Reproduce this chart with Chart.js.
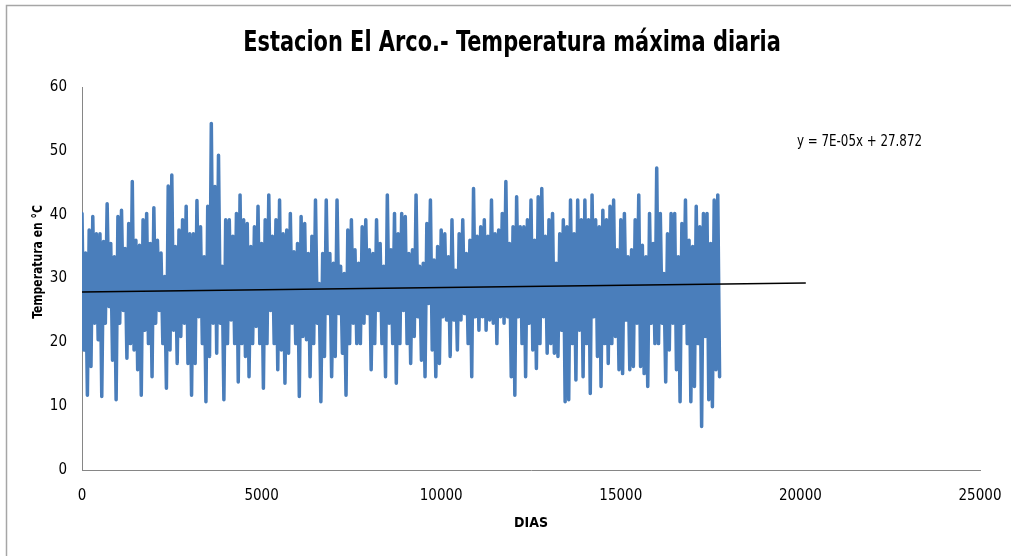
<!DOCTYPE html>
<html>
<head>
<meta charset="utf-8">
<script src="https://cdn.jsdelivr.net/npm/chart.js@4.4.1/dist/chart.umd.min.js"></script>
<style>
  html, body { margin: 0; padding: 0; background: #fff; }
</style>
</head>
<body>
<canvas id="grafico" width="1011" height="556"></canvas>
<script>
// Maximos y minimos de la serie diaria, leidos por tramos de 100 dias
const paso = 100;
const maximos = [
  40.2, 34, 37.6, 39.7, 37, 37, 35.8, 41.7, 35.5, 33.4, 39.7, 40.7, 34.7, 38.6, 45.2, 36,
  35.2, 39.2, 40.2, 35.5, 41.1, 36, 34, 30.3, 44.5, 46.2, 35, 37.6, 39.2, 41.3, 37, 37,
  42.2, 38.1, 33.4, 41.3, 54.3, 44.4, 49.3, 31.9, 39.2, 39.2, 36.6, 40.2, 43.1, 39.2,
  38.6, 35, 38.1, 41.3, 35.5, 39.2, 43.1, 36.6, 39.2, 42.3, 37, 37.6, 40.2, 34.2, 35.5, 39.7,
  38.6, 33.9, 36.6, 42.3, 29.2, 33.9, 42.3, 33.9, 32.4, 42.3, 31.9, 30.8, 37.6, 39.2, 34.5, 32.4,
  38.1, 39.2, 34.5, 33.9, 39.2, 35.5, 31.9, 43.1, 34.5, 40.2, 37, 40.2,
  39.7, 33.9, 34.5, 43.1, 31.9, 32.4, 38.6, 42.3, 32.9, 35, 37.6, 37, 33.4, 39.2, 31.3, 37,
  39.2, 33.9, 36, 44.1, 36.6, 38.1, 39.2, 36.6, 42.3, 37, 37.6, 40.2, 45.2, 35.5, 38.1, 42.8,
  38.1, 38.1, 39.2, 42.3, 36, 42.8, 44.1, 36.6, 39.2, 40.2, 32.4, 37, 39.2,
  38.1, 42.3, 37, 42.3, 39.2, 42.3, 39.2, 43.1, 39.2, 38.1, 40.7, 39.2, 41.3, 42.3, 34.5, 39.2,
  40.2, 33.4, 34.5, 39.2, 43.1, 35.2, 33.4, 40.2, 35.5, 47.3, 40.2, 30.8, 37, 40.2, 40.2, 33.4,
  38.6, 42.3, 36, 35, 41.3, 38.1, 40.2, 40.2, 35.5, 42.3, 43.1
];
const minimos = [
  18.8, 11.7, 16.2, 23, 20.4, 11.5, 23, 25.6, 17.2, 11, 23, 25, 17.5, 19.8, 18.8, 15.7,
  11.7, 21.9, 19.8, 14.6, 23, 25, 19.8, 12.8, 18.8, 21.9, 16.7, 20.9, 23, 16.7, 11.7, 16.7,
  24, 19.8, 10.7, 17.8, 23, 18.3, 23, 11, 19.8, 23.5, 19.8, 13.8, 19.8, 17.8,
  14.6, 19.8, 22.5, 19.8, 12.8, 19.8, 25, 19.8, 15.7, 18.8, 13.6, 18.3, 23, 19.8, 11.5, 20.9,
  20.4, 14.6, 19.8, 23, 10.7, 17.8, 24.5, 14.6, 17.8, 24.5, 18.3, 11.7, 19.8, 23, 19.8, 19.8,
  23, 24.5, 15.7, 19.8, 25, 19.8, 14.6, 23, 19.8, 13.6, 19.8, 25,
  19.8, 16.7, 20.9, 24, 17.2, 14.6, 26.1, 18.8, 14.6, 16.7, 24, 23.5, 17.8, 23.5, 18.8, 23.5,
  24.5, 19.8, 14.6, 24, 21.9, 24, 21.9, 23.5, 23, 19.8, 24, 23, 24, 14.6, 11.7, 24,
  19.8, 14.6, 23, 18.8, 15.9, 19.8, 24, 18.3, 19.8, 18.3, 17.8, 21.9, 10.7,
  11, 19.8, 14.1, 21.9, 14.6, 19.8, 12, 24, 17.8, 13.1, 19.8, 16.7, 19.8, 20.9, 15.7, 15.1,
  23.5, 15.7, 16.2, 23, 16.2, 15.1, 13.1, 23, 19.8, 19.8, 23, 13.8, 18.8, 23, 15.7, 10.7,
  23, 19.8, 10.7, 13.1, 19.8, 6.8, 20.9, 11, 9.9, 15.7, 14.6
];

// Linea de tendencia (Excel): y = 7E-05x + 27.872
const pendiente = 7e-5;
const intercepto = 27.872;
const finTendencia = 20150;

const fuente = '"Liberation Sans Narrow", "Arial Narrow", "DejaVu Sans Condensed", sans-serif';
const azul = '#4a7ebb';
const gris = '#868686';

// serie en zigzag maximo / minimo de cada tramo
const serie = [];
maximos.forEach((v, i) => {
  serie.push({ x: i * paso, y: v });
  serie.push({ x: i * paso + paso / 2, y: minimos[i] });
});

const tendencia = [
  { x: 0, y: intercepto },
  { x: finTendencia, y: intercepto + pendiente * finTendencia }
];

// texto estrecho (tipo Calibri) a partir de la fuente disponible
function texto(ctx, str, x, y, font, escala, giro) {
  ctx.save();
  ctx.translate(x, y);
  if (giro) ctx.rotate(giro);
  ctx.scale(escala, 1);
  ctx.font = font;
  ctx.fillText(str, 0, 0);
  ctx.restore();
}

// titulo, ecuacion, titulo del eje y y marco
const textos = {
  id: 'textos',
  beforeDraw(chart) {
    const ctx = chart.ctx;
    ctx.save();
    ctx.strokeStyle = '#a6a6a6';
    ctx.lineWidth = 1.5;
    ctx.strokeRect(6.5, 5.5, 1100, 600);
    ctx.restore();
  },
  afterDraw(chart) {
    const ctx = chart.ctx;
    ctx.save();
    ctx.fillStyle = '#000';
    ctx.textBaseline = 'middle';
    ctx.textAlign = 'center';
    texto(ctx, 'Estacion El Arco.- Temperatura máxima diaria', 512, 44, 'bold 28px ' + fuente, 0.83);
    ctx.textAlign = 'left';
    texto(ctx, 'y = 7E-05x + 27.872', 797, 142, '15px ' + fuente, 0.88);
    ctx.textAlign = 'center';
    texto(ctx, 'Temperatura en °C', 38, 262, 'bold 14px ' + fuente, 0.86, -Math.PI / 2);
    ctx.restore();
  }
};

Chart.defaults.font.family = fuente;
Chart.defaults.color = '#000';

new Chart(document.getElementById('grafico'), {
  type: 'scatter',
  data: {
    datasets: [{
      label: 'Lineal',
      data: tendencia,
      showLine: true,
      borderColor: '#000',
      borderWidth: 1.5,
      pointRadius: 0,
      order: 0
    }, {
      label: 'Temperatura máxima',
      data: serie,
      showLine: true,
      borderColor: azul,
      borderWidth: 3.5,
      borderJoinStyle: 'round',
      borderCapStyle: 'round',
      pointRadius: 0,
      order: 1
    }]
  },
  options: {
    responsive: false,
    animation: false,
    layout: { padding: { left: 0, right: 31, top: 87, bottom: 0 } },
    plugins: {
      legend: { display: false },
      tooltip: { enabled: false }
    },
    scales: {
      x: {
        type: 'linear',
        min: 0,
        max: 25000,
        grid: { display: true, drawOnChartArea: false, drawTicks: false },
        border: { display: true, color: gris, width: 1 },
        ticks: { stepSize: 5000, padding: 17, font: { size: 15 }, maxRotation: 0, callback: v => String(v) },
        title: { display: true, text: 'DIAS', font: { size: 14, weight: 'bold' }, padding: { bottom: 24 } },
        afterFit: s => { s.height = 86; s.paddingLeft = 0; s.paddingRight = 0; }
      },
      y: {
        min: 0,
        max: 60,
        grid: { display: true, drawOnChartArea: false, drawTicks: false },
        border: { display: true, color: gris, width: 1 },
        ticks: { stepSize: 10, padding: 15, font: { size: 15 } },
        afterFit: s => { s.width = 82; }
      }
    }
  },
  plugins: [textos]
});
</script>
</body>
</html>
